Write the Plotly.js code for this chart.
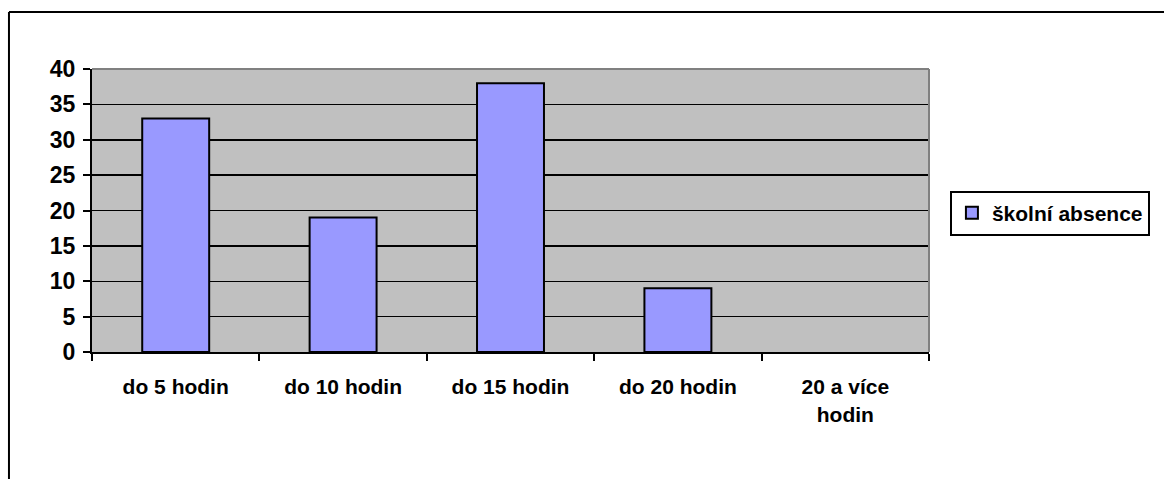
<!DOCTYPE html>
<html>
<head>
<meta charset="utf-8">
<script src="https://cdn.plot.ly/plotly-3.0.1.min.js"></script>
<style>
  html, body { margin: 0; padding: 0; background: #fff; }
  #chart { width: 1164px; height: 479px; }
</style>
</head>
<body>
<div id="chart"></div>
<script>
// categories and values
var categories = ["do 5 hodin", "do 10 hodin", "do 15 hodin", "do 20 hodin", "20 a více<br>hodin"];
var absence = [33, 19, 38, 9, 0];
var seriesName = "školní absence";

var fam = "Liberation Sans, Arial, sans-serif";

var trace1 = {
    x: categories,
    y: absence,
    type: "bar",
    name: seriesName,
    // no outline on an empty bar
    marker: {color: "#9999FF", line: {color: "#000", width: absence.map(v => v > 0 ? 2 : 0)}},
    hoverinfo: "x+y"
};

var data = [trace1];

var layout = {
    width: 1164,
    height: 479,
    margin: {l: 92, r: 235, t: 69, b: 127},
    paper_bgcolor: "#fff",
    plot_bgcolor: "#C0C0C0",
    font: {family: fam, size: 21, color: "#000"},
    bargap: 0.6,
    showlegend: true,
    xaxis: {
        type: "category",
        tickson: "boundaries",
        ticks: "outside",
        ticklen: 7,
        tickwidth: 2,
        tickcolor: "#000",
        showline: true,
        linecolor: "#000",
        linewidth: 2,
        showgrid: false,
        ticklabelstandoff: 15,
        tickfont: {family: fam, size: 21, color: "#000", weight: "bold"}
    },
    yaxis: {
        range: [0, 40],
        dtick: 5,
        ticks: "outside",
        ticklen: 7,
        tickwidth: 2,
        tickcolor: "#000",
        showline: true,
        linecolor: "#000",
        linewidth: 2,
        showgrid: true,
        gridcolor: "#000",
        gridwidth: 1.5,
        zeroline: false,
        ticklabelstandoff: 3,
        tickfont: {family: fam, size: 23, color: "#000", weight: "bold"}
    },
    legend: {
        x: 1.025,
        y: 0.57,
        xanchor: "left",
        yanchor: "top",
        bgcolor: "#fff",
        bordercolor: "#000",
        borderwidth: 2,
        itemwidth: 30,
        font: {family: fam, size: 21, color: "#000", weight: "bold"}
    },
    shapes: [
        // gray edge of plot area (top, right)
        {type: "line", xref: "paper", yref: "paper", x0: 0, x1: 1, y0: 1, y1: 1, line: {color: "#808080", width: 2}},
        {type: "line", xref: "paper", yref: "paper", x0: 1, x1: 1, y0: 0, y1: 1, line: {color: "#808080", width: 2}},
        // outer frame (top and left)
        {type: "line", xref: "paper", yref: "paper", x0: -0.0992, x1: 1.3, y0: 1.2014, y1: 1.2014, line: {color: "#000", width: 2}},
        {type: "line", xref: "paper", yref: "paper", x0: -0.0992, x1: -0.0992, y0: -0.5, y1: 1.2014, line: {color: "#000", width: 2}}
    ]
};

Plotly.newPlot("chart", data, layout, {displayModeBar: false, staticPlot: true});
</script>
</body>
</html>
